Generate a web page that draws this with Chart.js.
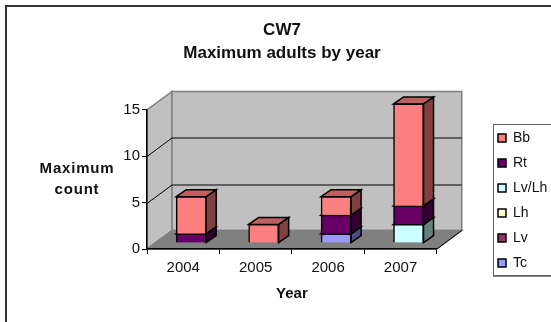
<!DOCTYPE html>
<html>
<head>
<meta charset="utf-8">
<title>CW7</title>
<script src="https://cdn.jsdelivr.net/npm/chart.js@4/dist/chart.umd.min.js"></script>
<style>
  html, body { margin: 0; padding: 0; background: #fff; overflow: hidden; }
  #wrap { width: 551px; height: 322px; }
</style>
</head>
<body>
<div id="wrap"><canvas id="chart" width="551" height="322"></canvas></div>
<script>
const years = ['2004', '2005', '2006', '2007'];
const tc = [null, null, 1, null];
const lv = [null, null, null, null];
const lh = [null, null, null, null];
const lvLh = [null, null, null, 2];
const rt = [1, null, 2, 2];
const bb = [4, 2, 2, 11];
const yTicks = [0, 5, 10, 15];

const fontFamily = '"Liberation Sans", Arial, sans-serif';

// depth of the box behind the plot, and where bars sit inside it
const depthX = 25;
const depthY = 18.5;
const barShiftX = 8;
const barShiftY = -6;
const barDepthX = 10;
const barDepthY = 7;

function series(label, data, front, top, side) {
    return {
        label, data, top, side,
        backgroundColor: front,
        borderColor: '#000',
        borderWidth: 1.5,
        barThickness: 30,
        clip: false,
        stack: 'a',
    };
}

function quad(ctx, pts, fill, stroke) {
    ctx.beginPath();
    ctx.moveTo(pts[0][0], pts[0][1]);
    for (let i = 1; i < pts.length; i++) ctx.lineTo(pts[i][0], pts[i][1]);
    ctx.closePath();
    ctx.fillStyle = fill;
    ctx.fill();
    if (stroke) {
        ctx.strokeStyle = stroke;
        ctx.stroke();
    }
}

const boxPlugin = {
    id: 'box3d',
    afterLayout(chart) {
        // legend sits in its own frame on the right, title off centre
        chart.legend.left = 487;
        chart.legend.right = 551;
        chart.legend.top = 120;
        chart.titleBlock.left += 28.5;
        chart.titleBlock.right += 28.5;
    },
    beforeDraw(chart) {
        const { ctx, chartArea: a } = chart;
        const yScale = chart.scales.y;
        const l = a.left, r = a.right, t = a.top, b = a.bottom;

        ctx.save();
        ctx.fillStyle = '#fff';
        ctx.fillRect(0, 0, chart.width, chart.height);

        // outer frame runs off the right and bottom edges
        ctx.strokeStyle = '#333';
        ctx.lineWidth = 2;
        ctx.strokeRect(6, 6, 560, 330);

        ctx.lineWidth = 1.5;
        quad(ctx, [[l, t], [l + depthX, t - depthY], [l + depthX, b - depthY], [l, b]], '#c0c0c0', '#808080');
        quad(ctx, [[l + depthX, t - depthY], [r + depthX, t - depthY], [r + depthX, b - depthY], [l + depthX, b - depthY]], '#c0c0c0', '#808080');
        quad(ctx, [[l, b], [l + depthX, b - depthY], [r + depthX, b - depthY], [r, b]], '#808080', '#808080');

        ctx.strokeStyle = '#000';
        ctx.lineWidth = 1;
        yTicks.slice(1, 3).forEach((v) => {
            const py = Math.round(yScale.getPixelForValue(v)) + 0.5;
            ctx.beginPath();
            ctx.moveTo(l, py);
            ctx.lineTo(l + depthX, py - depthY);
            ctx.lineTo(r + depthX, py - depthY);
            ctx.stroke();
        });

        // floor edge beside the right end of the x axis
        ctx.beginPath();
        ctx.moveTo(r, b);
        ctx.lineTo(r + depthX, b - depthY);
        ctx.strokeStyle = '#000';
        ctx.stroke();

        // legend frame, heavier along the bottom
        ctx.strokeStyle = '#666';
        ctx.lineWidth = 1;
        ctx.strokeRect(493.5, 124.5, 70, 151);
        ctx.beginPath();
        ctx.moveTo(493, 276.5);
        ctx.lineTo(551, 276.5);
        ctx.strokeStyle = '#808080';
        ctx.stroke();

        // horizontal y axis caption
        ctx.fillStyle = '#111';
        ctx.font = 'bold 15px ' + fontFamily;
        ctx.textAlign = 'center';
        ctx.textBaseline = 'middle';
        ctx.letterSpacing = '0.8px';
        ctx.fillText('Maximum', 77, 169);
        ctx.fillText('count', 77, 190);
        ctx.restore();
    },
    beforeDatasetsDraw(chart) {
        const { ctx } = chart;
        ctx.save();
        ctx.translate(barShiftX, barShiftY);
        ctx.lineWidth = 1.5;
        chart.data.datasets.forEach((ds, i) => {
            chart.getDatasetMeta(i).data.forEach((bar, j) => {
                if (ds.data[j] === null) return;
                const x0 = bar.x - bar.width / 2;
                const x1 = bar.x + bar.width / 2;
                const yTop = bar.y;
                const yBase = bar.base;
                quad(ctx, [[x1, yTop], [x1 + barDepthX, yTop - barDepthY], [x1 + barDepthX, yBase - barDepthY], [x1, yBase]], ds.side, '#000');
                quad(ctx, [[x0, yTop], [x0 + barDepthX, yTop - barDepthY], [x1 + barDepthX, yTop - barDepthY], [x1, yTop]], ds.top, '#000');
            });
        });
    },
    afterDatasetsDraw(chart) {
        chart.ctx.restore();
    },
};

new Chart(document.getElementById('chart'), {
    type: 'bar',
    data: {
        labels: years,
        datasets: [
            series('Tc', tc, '#9999ff', '#7373bf', '#4c4c80'),
            series('Lv', lv, '#993366', '#73264d', '#4c1933'),
            series('Lh', lh, '#ffffcc', '#bfbf99', '#808066'),
            series('Lv/Lh', lvLh, '#ccffff', '#99bfbf', '#668080'),
            series('Rt', rt, '#660066', '#4d004d', '#330033'),
            series('Bb', bb, '#ff8080', '#bf6060', '#804040'),
        ],
    },
    plugins: [boxPlugin],
    options: {
        responsive: false,
        animation: false,
        layout: { padding: { top: 0, left: 0, right: 44, bottom: 0 } },
        plugins: {
            tooltip: { enabled: false },
            title: {
                display: true,
                text: ['CW7', 'Maximum adults by year'],
                color: '#111',
                font: { family: fontFamily, size: 17, weight: 'bold', lineHeight: 1.35 },
                padding: { top: 19, bottom: 45 },
            },
            legend: {
                position: 'right',
                align: 'start',
                reverse: true,
                labels: {
                    boxWidth: 8,
                    boxHeight: 8,
                    padding: 11,
                    color: '#111',
                    font: { family: fontFamily, size: 14 },
                },
            },
        },
        scales: {
            x: {
                stacked: true,
                grid: { drawOnChartArea: false, color: '#000', tickLength: 5 },
                border: { color: '#000', width: 1.5 },
                ticks: { color: '#111', font: { family: fontFamily, size: 15 }, padding: 5 },
                title: {
                    display: true,
                    text: 'Year',
                    color: '#111',
                    font: { family: fontFamily, size: 15, weight: 'bold' },
                    padding: { top: 8, bottom: 19 },
                },
                afterFit(scale) { scale.height = 73; },
            },
            y: {
                stacked: true,
                min: 0,
                max: 15,
                grid: { drawOnChartArea: false, color: '#000', tickLength: 5 },
                border: { color: '#000', width: 1.5 },
                ticks: {
                    color: '#111',
                    font: { family: fontFamily, size: 15 },
                    padding: 2,
                    stepSize: 5,
                },
                afterFit(scale) { scale.width = 147; },
            },
        },
    },
});
</script>
</body>
</html>
